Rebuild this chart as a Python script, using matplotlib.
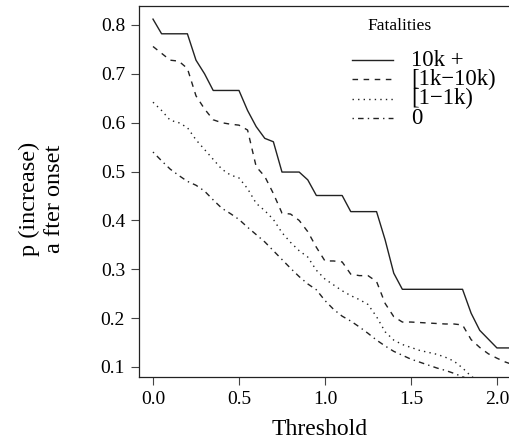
import matplotlib
matplotlib.use("Agg")
import matplotlib.pyplot as plt
from matplotlib.lines import Line2D
import numpy as np

# thresholds on a 0.05 grid
threshold = np.round(np.arange(0, 2.101, 0.05), 2)

fat_10k_plus = [
    0.812, 0.782, 0.782, 0.782, 0.782, 0.728, 0.700, 0.666, 0.666, 0.666,
    0.666, 0.625, 0.592, 0.568, 0.561, 0.499, 0.499, 0.499, 0.483, 0.451,
    0.451, 0.451, 0.451, 0.418, 0.418, 0.418, 0.418, 0.360, 0.292, 0.259,
    0.259, 0.259, 0.259, 0.259, 0.259, 0.259, 0.259, 0.210, 0.175, 0.157,
    0.139, 0.139, 0.139,
]
fat_1k_10k = [
    0.756, 0.742, 0.728, 0.726, 0.711, 0.655, 0.628, 0.606, 0.600, 0.597,
    0.595, 0.585, 0.510, 0.490, 0.455, 0.415, 0.413, 0.400, 0.377, 0.345,
    0.317, 0.317, 0.315, 0.290, 0.287, 0.287, 0.275, 0.230, 0.203, 0.192,
    0.192, 0.191, 0.190, 0.189, 0.188, 0.188, 0.186, 0.156, 0.140, 0.127,
    0.118, 0.110, 0.104,
]
fat_1_1k = [
    0.642, 0.625, 0.605, 0.600, 0.590, 0.565, 0.545, 0.525, 0.505, 0.493,
    0.487, 0.465, 0.435, 0.420, 0.402, 0.375, 0.355, 0.338, 0.325, 0.298,
    0.280, 0.268, 0.256, 0.246, 0.238, 0.228, 0.203, 0.172, 0.155, 0.146,
    0.140, 0.134, 0.130, 0.126, 0.120, 0.112, 0.098, 0.081, 0.070, 0.060,
    0.055, 0.050, 0.045,
]
fat_zero = [
    0.540, 0.522, 0.505, 0.492, 0.480, 0.472, 0.460, 0.442, 0.425, 0.414,
    0.402, 0.386, 0.371, 0.356, 0.338, 0.320, 0.302, 0.285, 0.270, 0.258,
    0.236, 0.218, 0.204, 0.194, 0.182, 0.169, 0.155, 0.143, 0.132, 0.124,
    0.116, 0.110, 0.104, 0.098, 0.093, 0.087, 0.080, 0.073, 0.066, 0.060,
    0.055, 0.050, 0.046,
]
labels = ["10k +", "[1k\u221210k)", "[1\u22121k)", "0"]

plt.rcParams["font.family"] = ["Liberation Serif", "DejaVu Serif"]

W, H = 510, 440
fig = plt.figure(figsize=(W / 100, H / 100), dpi=100)
ax = fig.add_axes([139 / W, 63 / H, 371 / W, 371.3 / H])

styles = [
    "-",
    (0, (4, 4)),
    (0, (1, 3)),
    (0, (1, 3, 4, 3)),
]
col = "#222222"
series_all = [fat_10k_plus, fat_1k_10k, fat_1_1k, fat_zero]
for series, ls in zip(series_all, styles):
    ax.plot(threshold, series, color=col, lw=1.0, linestyle=ls)

ax.set_xlim(-0.0814, 2.076)
ax.set_ylim(0.0795, 0.8395)
ax.set_xticks([0.0, 0.5, 1.0, 1.5, 2.0])
ax.set_yticks([0.1, 0.2, 0.3, 0.4, 0.5, 0.6, 0.7, 0.8])
ax.tick_params(direction="out", length=6, width=0.8, color="#444444",
               labelsize=14, pad=4)
for s in ax.spines.values():
    s.set_color("#222222")
    s.set_linewidth(0.9)


def px(x, y):
    # pixel position (from top-left) to figure fraction
    return x / W, 1 - y / H


# axis labels
fig.text(*px(320, 435), "Threshold", fontsize=17, ha="center", va="baseline")
fig.text(*px(42, 199), "p (increase)\na fter onset", fontsize=17.5,
         rotation=90, ha="center", va="center", multialignment="center")

# legend, drawn by hand to get the tight row spacing
fig.text(*px(400, 30), "Fatalities", fontsize=12.6, ha="center", va="baseline")
row_y = [60, 79.5, 99, 118]
for yy, ls, lab in zip(row_y, styles, labels):
    x0, y0 = px(352, yy)
    x1, _ = px(393, yy)
    fig.add_artist(Line2D([x0, x1], [y0, y0], transform=fig.transFigure,
                          color=col, lw=1.0, linestyle=ls))
    fig.text(*px(411, yy + 5.5), lab, fontsize=16.4, ha="left", va="baseline")

fig.savefig("out.png", dpi=100)
